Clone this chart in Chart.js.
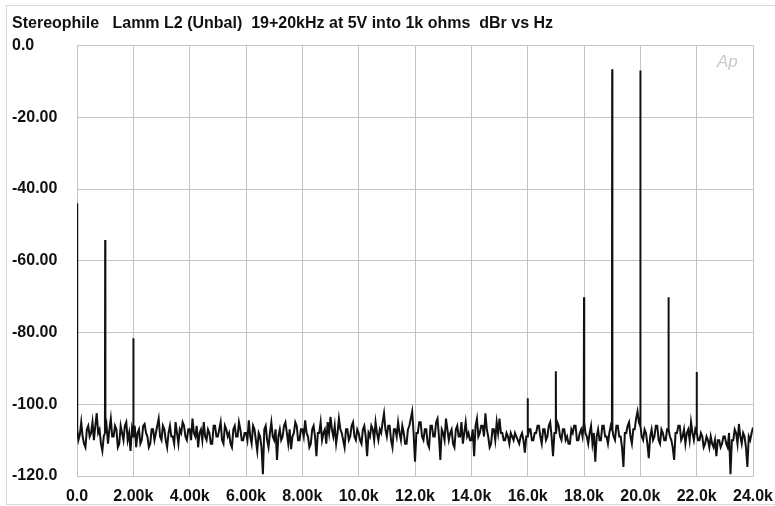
<!DOCTYPE html>
<html>
<head>
<meta charset="utf-8">
<script src="https://cdn.jsdelivr.net/npm/chart.js@4/dist/chart.umd.min.js"></script>
<style>
  html, body { margin: 0; padding: 0; background: #ffffff; }
  #wrap { width: 775px; height: 506px; }
</style>
</head>
<body>
<div id="wrap"><canvas id="c" width="775" height="506"></canvas></div>
<script>
// ---- Data ----
const titleText = "Stereophile   Lamm L2 (Unbal)  19+20kHz at 5V into 1k ohms  dBr vs Hz";
const freqStepHz = 50; // noise floor sampled every 50 Hz from 0 to 24 kHz (one row = 1 kHz)
const noiseFloor = [
  -107, -110, -108.5, -105, -109, -111, -112, -107, -106, -109, -108, -105, -110, -106, -102.5, -108, -107, -111, -113, -109,
  -108, -106, -111, -107, -104, -109, -109, -106, -107, -112, -111, -106, -108, -110, -106, -105, -110, -108, -113, -107,
  -109, -106, -112, -108, -107, -111, -110, -106, -105.5, -108, -109, -112, -111, -107, -107, -110, -108, -106, -104, -109,
  -110, -106, -107, -110, -112, -108, -106, -109, -109, -111, -105, -108, -111, -107, -108, -105, -106, -109, -110, -107,
  -107, -110, -104, -108, -109, -106, -112, -108, -107, -110, -105, -109, -110, -107, -108, -111, -111, -106, -106, -109,
  -109, -107, -105, -110, -111, -106, -107, -109, -108, -111, -112, -107, -106, -109, -109, -105, -107, -110, -110, -108,
  -108, -110, -104.5, -109, -111, -106, -107, -110, -113, -108, -109, -112, -119.5, -107, -106, -110, -112, -108, -105, -109,
  -110, -107, -115.5, -109, -107, -110, -109, -106, -105, -108, -111, -107, -112.5, -109, -108, -105, -106, -110, -110, -107,
  -107, -109, -104.5, -108, -109, -112, -111, -107, -106, -109, -114.5, -108, -108, -105, -110, -108, -107, -111, -105, -108,
  -103.5, -107, -109, -106, -111, -108, -104, -107, -108, -110, -112, -107, -107, -110, -109, -106, -105, -109, -110, -107,
  -108, -110, -111, -107, -106, -109, -114.5, -108, -109, -106, -107, -110, -105, -108, -110, -107, -108, -105, -102.5, -107,
  -109, -106, -106, -110, -112, -107, -107, -109, -105, -108, -110, -106, -108, -111, -111, -107, -106, -104, -102, -108,
  -116, -108, -108, -105, -105, -109, -110, -107, -107, -111, -112, -106, -106, -109, -109, -105, -104, -109, -115.5, -107,
  -108, -110, -104, -107, -110, -108, -107, -111, -112, -107, -106, -109, -109, -105, -111, -108, -105, -109, -108, -110,
  -110, -107, -114.5, -106, -104, -109, -108, -106, -106, -109, -102.5, -107, -109, -112, -111, -107, -107, -110, -105, -108,
  -104, -108, -108, -110, -110, -108, -109, -111, -108, -109, -110, -108, -109, -110, -111, -109, -108, -110, -113.5, -109,
  -109, -107, -107, -110, -110, -108, -108, -106, -106, -109, -111, -107, -107, -110, -109, -106, -105, -109, -114.5, -108,
  -108, -105, -106, -109, -110, -107, -107, -110, -109, -111, -111, -107, -108, -106, -106, -110, -110, -108, -107, -109,
  -105, -108, -109, -111, -108, -106, -111, -108, -116, -109, -107, -110, -110, -106, -106, -109, -109, -111, -108, -106,
  -107, -109, -110, -106, -106, -109, -109, -112, -117.5, -108, -108, -106, -105, -109, -111, -107, -107, -104, -102, -105,
  -106, -109, -110, -107, -108, -111, -115, -109, -107, -110, -109, -106, -106, -110, -111, -107, -108, -110, -110, -107,
  -107, -109, -110, -112, -115.5, -108, -108, -106, -106, -110, -109, -107, -111, -108, -107, -110, -105, -108, -110, -107,
  -108, -110, -110, -108, -109, -112, -111, -109, -110, -112, -109, -111, -112, -110, -114.5, -110, -110, -112, -111, -109,
  -109, -111, -112, -108, -119.5, -110, -110, -107, -108, -111, -105.5, -109, -111, -108, -109, -112, -117.5, -109, -110, -108,
  -106.5
];
const peakFreqs  = [0, 1000, 2000, 16000, 17000, 18000, 19000, 20000, 21000, 22000];
const peakLevels = [-44, -54.2, -81.6, -98.3, -90.8, -70.2, -6.6, -7.0, -70.2, -91];
const xTickValues = [0, 2000, 4000, 6000, 8000, 10000, 12000, 14000, 16000, 18000, 20000, 22000, 24000];
const xTickLabels = ["0.0", "2.00k", "4.00k", "6.00k", "8.00k", "10.0k", "12.0k", "14.0k", "16.0k", "18.0k", "20.0k", "22.0k", "24.0k"];
const yTickValues = [0, -20, -40, -60, -80, -100, -120];
const yTickLabels = ["0.0", "-20.00", "-40.00", "-60.00", "-80.00", "-100.0", "-120.0"];

// ---- Build the trace ----
const points = [];
for (let i = 0; i < noiseFloor.length; i++) {
  const f = i * freqStepHz;
  const p = peakFreqs.indexOf(f);
  if (p >= 0) {
    if (f > 0) points.push({ x: f - 8, y: noiseFloor[i] });
    points.push({ x: f, y: peakLevels[p] });
    points.push({ x: f + 8, y: noiseFloor[i] });
  } else {
    points.push({ x: f, y: noiseFloor[i] });
  }
}

const FONT = "'Liberation Sans', Arial, Helvetica, sans-serif";
const gridColor = "#c4c4c4";

const decor = {
  id: "decor",
  afterDraw(chart) {
    const ctx = chart.ctx;
    ctx.save();
    ctx.strokeStyle = "#d8d8d8";
    ctx.lineWidth = 1;
    ctx.strokeRect(6.5, 5.5, 775, 499);
    const a = chart.chartArea;
    ctx.fillStyle = "#c8c8c8";
    ctx.font = "italic 17px " + FONT;
    ctx.textAlign = "left";
    ctx.textBaseline = "alphabetic";
    ctx.fillText("Ap", a.right - 36, a.top + 21);
    ctx.restore();
  }
};

new Chart(document.getElementById("c"), {
  type: "line",
  data: {
    datasets: [{
      data: points,
      borderColor: "#111111",
      borderWidth: 2,
      pointRadius: 0,
      tension: 0,
      fill: false
    }]
  },
  options: {
    responsive: false,
    animation: false,
    devicePixelRatio: 1,
    layout: { padding: { left: 12, right: 22, top: 0, bottom: 0 } },
    plugins: {
      legend: { display: false },
      tooltip: { enabled: false },
      title: {
        display: true,
        text: titleText,
        align: "start",
        color: "#111111",
        font: { family: FONT, size: 16, weight: "bold", lineHeight: 1.2 },
        padding: { top: 14, bottom: 12.3 }
      }
    },
    scales: {
      x: {
        type: "linear",
        min: 0,
        max: 24000,
        afterBuildTicks(scale) { scale.ticks = xTickValues.map(v => ({ value: v })); },
        afterFit(scale) { scale.height = 30; scale.paddingLeft = 0; scale.paddingRight = 0; },
        ticks: {
          color: "#111111",
          font: { family: FONT, size: 16, weight: "bold" },
          padding: 11,
          maxRotation: 0,
          autoSkip: false,
          callback: (v) => { const k = xTickValues.indexOf(v); return k >= 0 ? xTickLabels[k] : ""; }
        },
        grid: { color: gridColor, lineWidth: 1, drawTicks: false },
        border: { display: true, color: gridColor }
      },
      y: {
        type: "linear",
        min: -120,
        max: 0,
        afterBuildTicks(scale) { scale.ticks = yTickValues.map(v => ({ value: v })); },
        afterFit(scale) { scale.width = 65; scale.paddingTop = 0; scale.paddingBottom = 0; },
        ticks: {
          color: "#111111",
          font: { family: FONT, size: 16, weight: "bold" },
          crossAlign: "far",
          padding: 4,
          autoSkip: false,
          callback: (v) => { const k = yTickValues.indexOf(v); return k >= 0 ? yTickLabels[k] : ""; }
        },
        grid: { color: gridColor, lineWidth: 1, drawTicks: false },
        border: { display: true, color: gridColor }
      }
    }
  },
  plugins: [decor]
});
</script>
</body>
</html>
